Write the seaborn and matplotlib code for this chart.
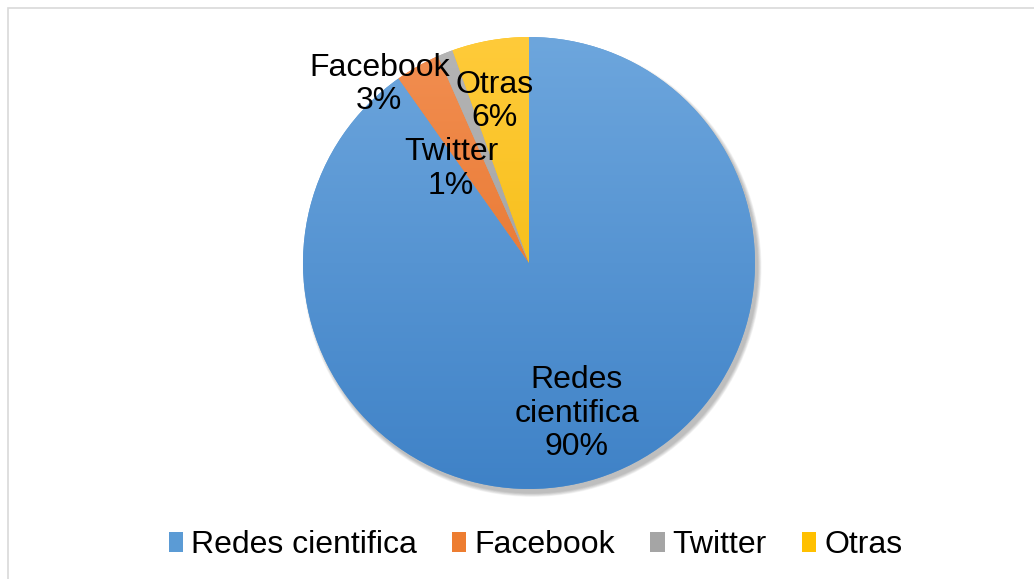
import numpy as np
import matplotlib
matplotlib.use("Agg")
import matplotlib.pyplot as plt
from matplotlib.colors import LinearSegmentedColormap
from matplotlib.patches import Patch, Circle, Rectangle
import seaborn as sns

sns.set_theme(style="white")
plt.rcParams['font.family'] = ['Liberation Sans', 'DejaVu Sans']
plt.rcParams['text.color'] = 'black'

# data
categories = ["Redes cientifica", "Facebook", "Twitter", "Otras"]
shares = [90.2, 3.2, 1.1, 5.5]
pct_labels = ["90%", "3%", "1%", "6%"]
label_text = ["Redes\ncientifica", "Facebook", "Twitter", "Otras"]

# Office-like colours, (top, bottom) of each gradient
grad = [("#6DA6DD", "#3F82C7"),
        ("#F28F52", "#E2691C"),
        ("#B5B5B5", "#979797"),
        ("#FFCB3A", "#F0B500")]
flat = ["#5B9BD5", "#ED7D31", "#A5A5A5", "#FFC000"]

# where each label sits: radius factor and angle shift from slice middle
lab_r = [0.70, 1.03, 0.54, 0.73]
lab_shift = [0.0, 10.5, 17.8, 2.1]

fig = plt.figure(figsize=(10.34, 5.79), dpi=100)
fig.patch.set_facecolor("white")

# thin grey chart border
fig.add_artist(Rectangle((8 / 1034, -0.01), 1.0, 1 - 8 / 579 + 0.01,
                         transform=fig.transFigure, fill=False,
                         edgecolor="#D9D9D9", linewidth=1.2))

ax = fig.add_axes([0.5116 - 0.2186, 0.5458 - 0.3903, 0.4372, 0.7806])

# soft shadow under the pie, towards lower right
for i in range(7):
    ax.add_patch(Circle((0.014, -0.02), 1.0 + 0.0025 * i, color="black",
                        alpha=0.04, linewidth=0, zorder=0, clip_on=False))

wedges, _ = ax.pie(shares, startangle=90, counterclock=False, radius=1,
                   colors=flat, wedgeprops=dict(linewidth=0))

ys = np.linspace(1, 0, 256).reshape(-1, 1)
for w, (c_top, c_bot) in zip(wedges, grad):
    cmap = LinearSegmentedColormap.from_list("g", [c_bot, c_top])
    img = ax.imshow(ys, cmap=cmap, extent=[-1, 1, -1, 1], aspect="auto",
                    zorder=2, vmin=0, vmax=1)
    img.set_clip_path(w)
    w.set_zorder(1)

for w, txt, pct, r, sh in zip(wedges, label_text, pct_labels, lab_r, lab_shift):
    mid = np.deg2rad((w.theta1 + w.theta2) / 2 + sh)
    ax.text(r * np.cos(mid), r * np.sin(mid), f"{txt}\n{pct}",
            ha="center", va="center", fontsize=23, color="black",
            linespacing=1.15, zorder=5)

ax.set_xlim(-1, 1)
ax.set_ylim(-1, 1)
ax.set_aspect("equal")
ax.axis("off")

handles = [Patch(facecolor=c, edgecolor="none") for c in flat]
fig.legend(handles, categories, loc="center", bbox_to_anchor=(0.518, 0.058),
           ncol=4, frameon=False, fontsize=23, handlelength=0.45,
           handleheight=0.55, handletextpad=0.25, columnspacing=1.1,
           labelcolor="black")

plt.savefig("out.png", dpi=100)
